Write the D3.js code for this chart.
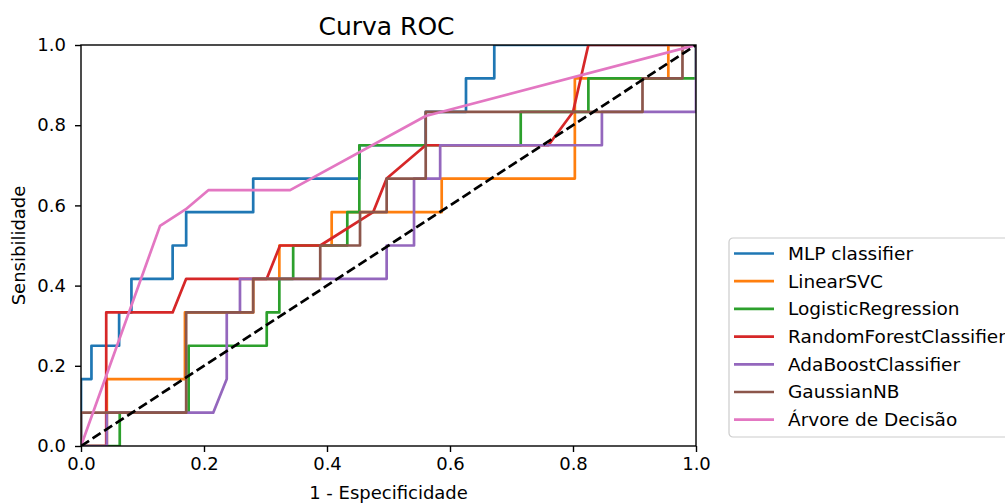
<!DOCTYPE html>
<html>
<head>
<meta charset="utf-8">
<script src="https://cdn.jsdelivr.net/npm/d3@7"></script>
<style>
  body { margin: 0; background: #fff; }
  text { font-family: "DejaVu Sans", sans-serif; fill: #000; }
</style>
</head>
<body>
<div id="chart"></div>
<script>
// ROC points (fpr, tpr)
const mlpFpr = [0, 0, 0.017, 0.017, 0.062, 0.062, 0.082, 0.082, 0.149, 0.149, 0.171, 0.171, 0.280, 0.280, 0.453, 0.453, 0.5605, 0.5605, 0.626, 0.626, 0.672, 0.672, 1];
const mlpTpr = [0, 0.167, 0.167, 0.25, 0.25, 0.333, 0.333, 0.417, 0.417, 0.5, 0.5, 0.583, 0.583, 0.667, 0.667, 0.75, 0.75, 0.833, 0.833, 0.917, 0.917, 1, 1];

const svcFpr = [0, 0.042, 0.042, 0.169, 0.169, 0.280, 0.280, 0.3225, 0.3225, 0.4076, 0.4076, 0.5865, 0.5865, 0.803, 0.803, 0.955, 0.955, 1];
const svcTpr = [0, 0, 0.167, 0.167, 0.333, 0.333, 0.417, 0.417, 0.5, 0.5, 0.583, 0.583, 0.667, 0.667, 0.917, 0.917, 1, 1];

const logFpr = [0, 0.063, 0.063, 0.175, 0.175, 0.302, 0.302, 0.3225, 0.3225, 0.345, 0.345, 0.433, 0.433, 0.4526, 0.4526, 0.715, 0.715, 0.825, 0.825, 1, 1];
const logTpr = [0, 0, 0.083, 0.083, 0.25, 0.25, 0.333, 0.333, 0.417, 0.417, 0.5, 0.5, 0.583, 0.583, 0.75, 0.75, 0.833, 0.833, 0.917, 0.917, 1];

const rfFpr = [0, 0.041, 0.041, 0.149, 0.171, 0.302, 0.3236, 0.389, 0.475, 0.497, 0.5605, 0.760, 0.80, 0.825, 1];
const rfTpr = [0, 0, 0.333, 0.333, 0.417, 0.417, 0.5, 0.5, 0.583, 0.667, 0.75, 0.75, 0.833, 1, 1];

const adaFpr = [0, 0.042, 0.042, 0.215, 0.237, 0.237, 0.2585, 0.2585, 0.497, 0.497, 0.5415, 0.5415, 0.584, 0.584, 0.847, 0.847, 1, 1];
const adaTpr = [0, 0, 0.083, 0.083, 0.167, 0.333, 0.333, 0.417, 0.417, 0.5, 0.5, 0.667, 0.667, 0.75, 0.75, 0.833, 0.833, 1];

const gnbFpr = [0, 0, 0.171, 0.171, 0.280, 0.280, 0.389, 0.389, 0.4537, 0.4537, 0.497, 0.497, 0.5605, 0.5605, 0.913, 0.913, 0.978, 0.978, 1];
const gnbTpr = [0, 0.083, 0.083, 0.333, 0.333, 0.417, 0.417, 0.5, 0.5, 0.583, 0.583, 0.667, 0.667, 0.833, 0.833, 0.917, 0.917, 1, 1];

const treeFpr = [0, 0.1285, 0.17, 0.207, 0.34, 0.5605, 1];
const treeTpr = [0, 0.549, 0.59, 0.638, 0.638, 0.823, 1];

const seriesNames = ["MLP classifier", "LinearSVC", "LogisticRegression", "RandomForestClassifier",
                     "AdaBoostClassifier", "GaussianNB", "Árvore de Decisão"];
const seriesColors = ["#1f77b4", "#ff7f0e", "#2ca02c", "#d62728", "#9467bd", "#8c564b", "#e377c2"];
const tickValues = [0, 0.2, 0.4, 0.6, 0.8, 1.0];

const series = [
    [mlpFpr, mlpTpr], [svcFpr, svcTpr], [logFpr, logTpr], [rfFpr, rfTpr],
    [adaFpr, adaTpr], [gnbFpr, gnbTpr], [treeFpr, treeTpr]
].map((s, i) => ({
    name: seriesNames[i],
    color: seriesColors[i],
    points: s[0].map((f, j) => ({ fpr: f, tpr: s[1][j] }))
}));

const W = 1005, H = 504;
const margin = { top: 45, right: 309, bottom: 58, left: 81 };
const plotW = W - margin.left - margin.right;   // 615
const plotH = H - margin.top - margin.bottom;   // 401

const svg = d3.select("#chart").append("svg")
    .attr("width", W)
    .attr("height", H);

const x = d3.scaleLinear().domain([0, 1]).range([margin.left, margin.left + plotW]);
const y = d3.scaleLinear().domain([0, 1]).range([margin.top + plotH, margin.top]);

svg.append("clipPath").attr("id", "plot-clip")
    .append("rect")
    .attr("x", margin.left).attr("y", margin.top)
    .attr("width", plotW).attr("height", plotH);

const line = d3.line()
    .x(d => x(d.fpr))
    .y(d => y(d.tpr));

const lines = svg.append("g").attr("clip-path", "url(#plot-clip)");

lines.selectAll("path.roc")
    .data(series)
    .enter().append("path")
    .attr("class", "roc")
    .attr("d", d => line(d.points))
    .attr("fill", "none")
    .attr("stroke", d => d.color)
    .attr("stroke-width", 2.7)
    .attr("stroke-linejoin", "round")
    .attr("stroke-linecap", "square");

// chance line
lines.append("path")
    .attr("d", line([{ fpr: 0, tpr: 0 }, { fpr: 1, tpr: 1 }]))
    .attr("fill", "none")
    .attr("stroke", "#000")
    .attr("stroke-width", 2.7)
    .attr("stroke-dasharray", "9.6,4.2");

// axes
const xAxis = d3.axisBottom(x).tickValues(tickValues).tickFormat(d3.format(".1f"))
    .tickSize(6).tickPadding(5);
const yAxis = d3.axisLeft(y).tickValues(tickValues).tickFormat(d3.format(".1f"))
    .tickSize(6).tickPadding(9);

const gx = svg.append("g")
    .attr("transform", "translate(0," + (margin.top + plotH) + ")")
    .call(xAxis);
const gy = svg.append("g")
    .attr("transform", "translate(" + margin.left + ",0)")
    .call(yAxis);

[gx, gy].forEach(g => {
    g.select(".domain").remove();
    g.selectAll(".tick line").attr("stroke", "#000").attr("stroke-width", 1.4);
    g.selectAll(".tick text")
        .style("font-family", "'DejaVu Sans', sans-serif")
        .style("font-size", "18px")
        .attr("fill", "#000");
});

// spines
svg.append("rect")
    .attr("x", margin.left).attr("y", margin.top)
    .attr("width", plotW).attr("height", plotH)
    .attr("fill", "none")
    .attr("stroke", "#000")
    .attr("stroke-width", 1.4);

// title and axis labels
svg.append("text")
    .attr("x", margin.left + plotW / 2 - 2)
    .attr("y", 35)
    .attr("text-anchor", "middle")
    .style("font-size", "25px")
    .text("Curva ROC");

svg.append("text")
    .attr("x", margin.left + plotW / 2)
    .attr("y", 499)
    .attr("text-anchor", "middle")
    .style("font-size", "18px")
    .text("1 - Especificidade");

svg.append("text")
    .attr("transform", "translate(25," + (margin.top + plotH / 2) + ") rotate(-90)")
    .attr("text-anchor", "middle")
    .style("font-size", "18px")
    .text("Sensibilidade");

// legend
const legend = svg.append("g").attr("transform", "translate(729,238)");
legend.append("rect")
    .attr("x", 0).attr("y", 0)
    .attr("width", 290).attr("height", 199)
    .attr("rx", 4)
    .attr("fill", "#fff")
    .attr("stroke", "#cccccc")
    .attr("stroke-width", 1.2);

const rows = legend.selectAll("g.row")
    .data(series)
    .enter().append("g")
    .attr("class", "row")
    .attr("transform", (d, i) => "translate(0," + (15.5 + i * 27.7) + ")");

rows.append("line")
    .attr("x1", 5).attr("x2", 45)
    .attr("y1", 0).attr("y2", 0)
    .attr("stroke", d => d.color)
    .attr("stroke-width", 2.7);

rows.append("text")
    .attr("x", 59)
    .attr("y", 0)
    .attr("dy", "0.35em")
    .style("font-size", "18.5px")
    .text(d => d.name);
</script>
</body>
</html>
